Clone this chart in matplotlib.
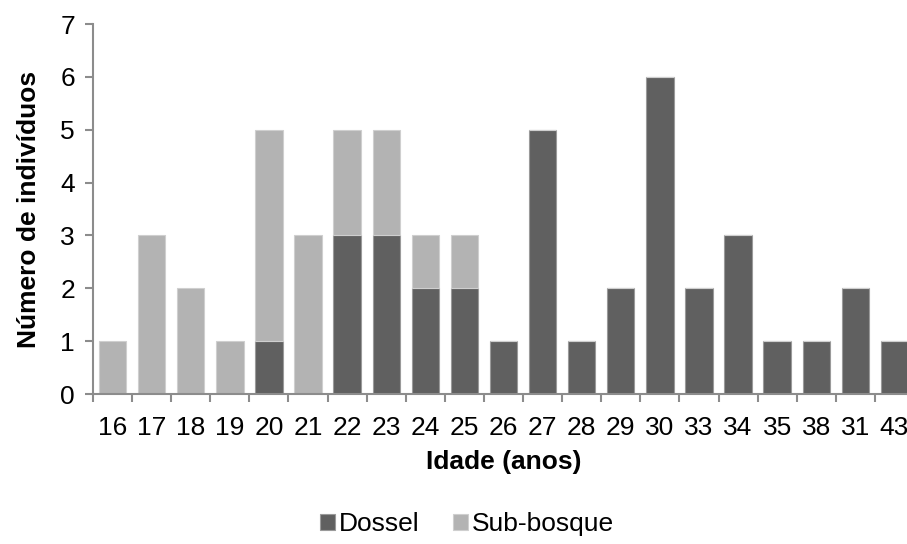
import matplotlib
matplotlib.use("Agg")
import matplotlib.pyplot as plt
import numpy as np

plt.rcParams['font.family'] = ['Liberation Sans', 'DejaVu Sans']

# idade das arvores e contagem por estrato
idades = ['16', '17', '18', '19', '20', '21', '22', '23', '24', '25', '26',
          '27', '28', '29', '30', '33', '34', '35', '38', '31', '43']
dossel = [0, 0, 0, 0, 1, 0, 3, 3, 2, 2, 1, 5, 1, 2, 6, 2, 3, 1, 1, 2, 1]
sub_bosque = [1, 3, 2, 1, 4, 3, 2, 2, 1, 1, 0, 0, 0, 0, 0, 0, 0, 0, 0, 0, 0]

cor_dossel = '#606060'
cor_sub = '#b3b3b3'
cor_eixo = '#8c8c8c'
fs = 19

fig = plt.figure(figsize=(9.07, 5.44), dpi=100)
ax = fig.add_axes([93/907, 150/544, 821/907, 370/544])

x = np.arange(len(idades))
ax.bar(x, dossel, width=0.7, color=cor_dossel, edgecolor='#9a9a9a',
       linewidth=0.8, label='Dossel')
ax.bar(x, sub_bosque, width=0.7, bottom=dossel, color=cor_sub,
       edgecolor='#cfcfcf', linewidth=0.8, label='Sub-bosque')

ax.set_xlim(-0.5, len(idades) - 0.5)
ax.set_ylim(0, 7)
ax.set_yticks(range(0, 8))

# ticks do eixo x entre as categorias, rotulos no centro
ax.set_xticks(np.arange(len(idades) + 1) - 0.5)
ax.set_xticklabels([])
ax.set_xticks(x, minor=True)
ax.set_xticklabels(idades, minor=True)
ax.tick_params(axis='x', which='minor', length=0, pad=16, labelsize=fs)
ax.tick_params(axis='x', which='major', length=6, color=cor_eixo, width=1.5)
ax.tick_params(axis='y', length=6, color=cor_eixo, width=1.5, labelsize=fs, pad=7)

for lado in ['top', 'right']:
    ax.spines[lado].set_visible(False)
for lado in ['left', 'bottom']:
    ax.spines[lado].set_color(cor_eixo)
    ax.spines[lado].set_linewidth(1.5)

ax.set_xlabel('Idade (anos)', fontsize=19, fontweight='bold', labelpad=7)
ax.set_ylabel('Número de indivíduos', fontsize=19, fontweight='bold', labelpad=14)

fig.legend(loc='center', bbox_to_anchor=(467/907, 1 - 524/544), ncol=2,
           frameon=False, fontsize=fs, handlelength=0.55, handleheight=0.55,
           handletextpad=0.15, columnspacing=1.3)

fig.savefig('out.png', dpi=100)
